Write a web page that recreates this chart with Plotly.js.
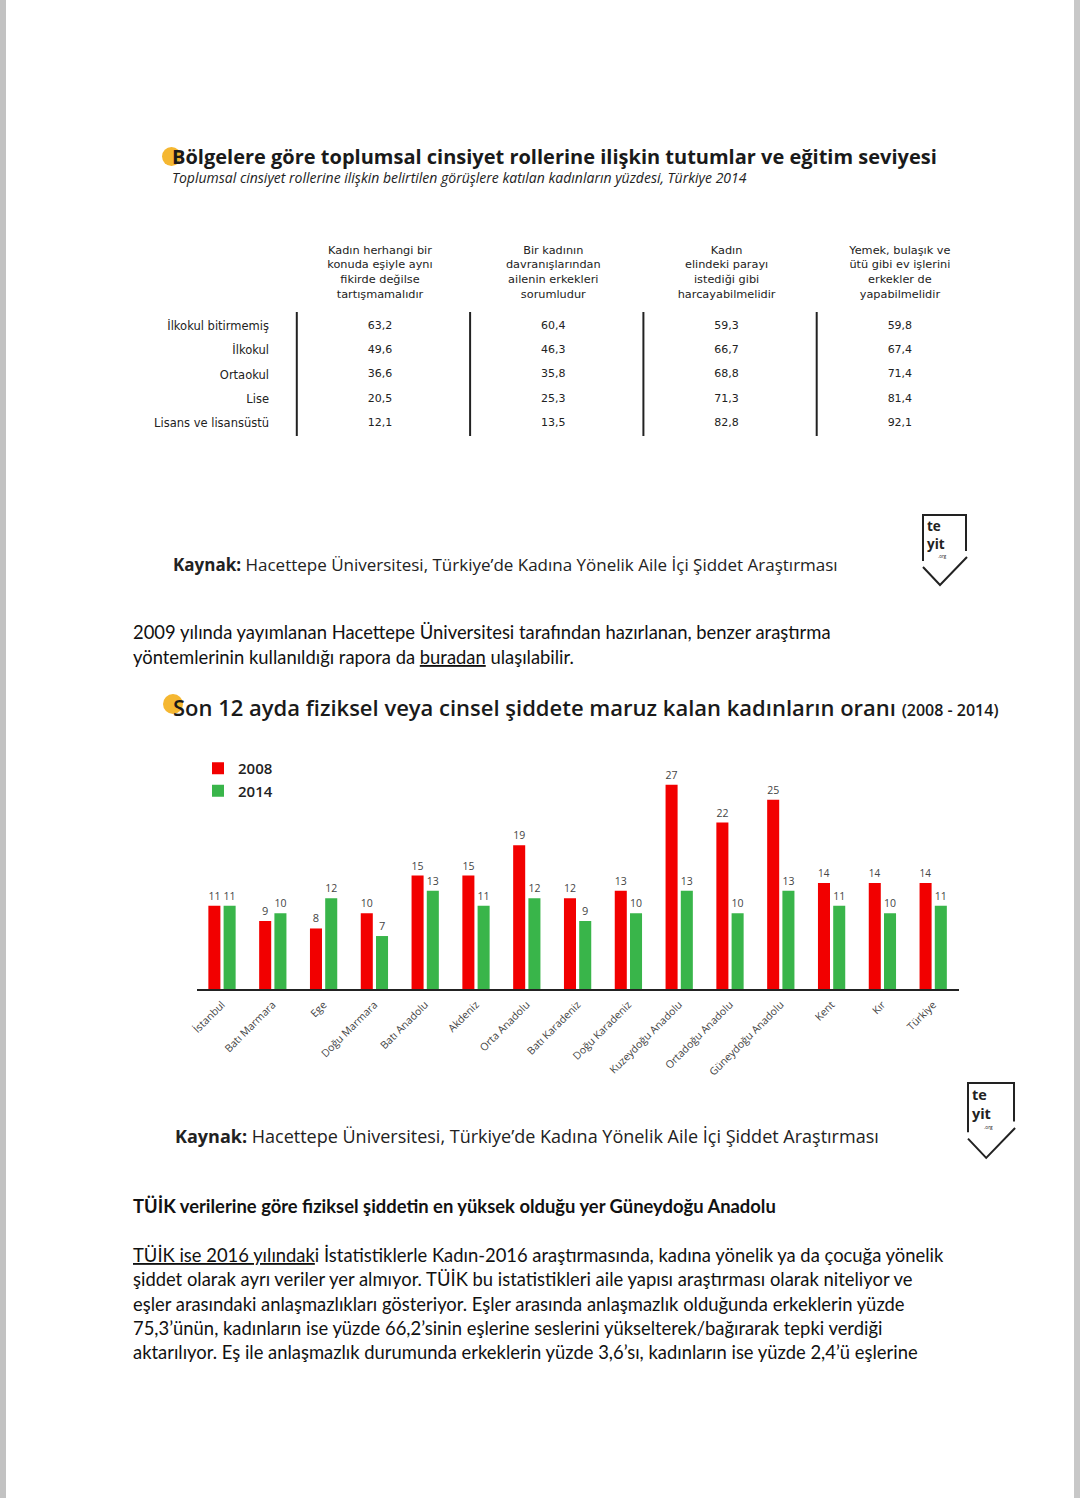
<!DOCTYPE html>
<html><head><meta charset="utf-8">
<script src="https://cdn.plot.ly/plotly-3.0.1.min.js"></script>
<style>html,body{margin:0;padding:0;background:#fff;} #chart{width:1080px;height:1498px;}</style>
</head><body><div id="chart"></div>
<script>
// ---------- DATA ----------
const regions = ['İstanbul','Batı Marmara','Ege','Doğu Marmara','Batı Anadolu','Akdeniz','Orta Anadolu','Batı Karadeniz','Doğu Karadeniz','Kuzeydoğu Anadolu','Ortadoğu Anadolu','Güneydoğu Anadolu','Kent','Kır','Türkiye'];
const violence2008 = [11,9,8,10,15,15,19,12,13,27,22,25,14,14,14];
const violence2014 = [11,10,12,7,13,11,12,9,10,13,10,13,11,10,11];
const seriesNames = ['2008','2014'];

const educationLevels = ['İlkokul bitirmemiş','İlkokul','Ortaokul','Lise','Lisans ve lisansüstü'];
const statements = [
  'Kadın herhangi bir<br>konuda eşiyle aynı<br>fikirde değilse<br>tartışmamalıdır',
  'Bir kadının<br>davranışlarından<br>ailenin erkekleri<br>sorumludur',
  'Kadın<br>elindeki parayı<br>istediği gibi<br>harcayabilmelidir',
  'Yemek, bulaşık ve<br>ütü gibi ev işlerini<br>erkekler de<br>yapabilmelidir'
];
const agreeNotArgue = [63.2,49.6,36.6,20.5,12.1];
const agreeMenResponsible = [60.4,46.3,35.8,25.3,13.5];
const agreeSpendMoney = [59.3,66.7,68.8,71.3,82.8];
const agreeMenHousework = [59.8,67.4,71.4,81.4,92.1];

// ---------- HELPERS ----------
const W = 1080, H = 1498;
const X = p => p / W;
const Y = p => 1 - p / H;
const fmt = v => v.toFixed(1).replace('.', ',');

function txt(px, py, text, size, o) {
  o = o || {};
  return {
    xref: 'paper', yref: 'paper', x: X(px), y: Y(py),
    xanchor: o.xanchor || 'left', yanchor: 'middle', showarrow: false,
    borderpad: 0, borderwidth: 0,
    text: text,
    font: {family: o.family || 'Lato', size: size, color: o.color || '#111', weight: o.weight || 400, style: o.style || 'normal'}
  };
}

// ---------- TRACES ----------
const RED = '#F20000', GREEN = '#39B54A';
const traces = [];
[violence2008, violence2014].forEach((vals, i) => {
  traces.push({
    type: 'bar', x: regions, y: vals, name: seriesNames[i],
    marker: {color: i === 0 ? RED : GREEN},
    text: vals.map(String), textposition: 'outside', cliponaxis: false,
    textfont: {family: 'Open Sans', size: 11, color: '#444'},
    hoverinfo: 'x+y', xaxis: 'x', yaxis: 'y'
  });
});

const TABLE_FONT = 'DejaVu Sans';
const tableCols = [agreeNotArgue, agreeMenResponsible, agreeSpendMoney, agreeMenHousework];
tableCols.forEach((col, j) => {
  traces.push({
    type: 'scatter', mode: 'text', showlegend: false,
    x: col.map(() => statements[j]), y: educationLevels,
    text: col.map(fmt),
    textfont: {family: TABLE_FONT, size: 11, color: '#222'},
    xaxis: 'x2', yaxis: 'y2', hoverinfo: 'text'
  });
});

// ---------- SHAPES ----------
const shapes = [];
shapes.push({type: 'rect', xref: 'paper', yref: 'paper', x0: 0, x1: X(6), y0: 0, y1: 1, fillcolor: '#c2c2c2', line: {width: 0}, layer: 'below'});
shapes.push({type: 'rect', xref: 'paper', yref: 'paper', x0: X(1074), x1: 1, y0: 0, y1: 1, fillcolor: '#c8c8c8', line: {width: 0}, layer: 'below'});
// title bullets
shapes.push({type: 'circle', xref: 'paper', yref: 'paper', x0: X(162), x1: X(181), y0: Y(166), y1: Y(147), fillcolor: '#F5B731', line: {width: 0}, layer: 'below'});
shapes.push({type: 'circle', xref: 'paper', yref: 'paper', x0: X(163), x1: X(183), y0: Y(714), y1: Y(694), fillcolor: '#F5B731', line: {width: 0}, layer: 'below'});
// table dividers
statements.forEach((s, j) => {
  shapes.push({type: 'line', xref: 'x2', yref: 'paper', x0: j - 0.48, x1: j - 0.48, y0: Y(436), y1: Y(312), line: {color: '#222', width: 2}});
});

const annotations = [];
function logo(ox, oy, s) {
  const P = (dx, dy) => X(ox + dx * s) + ',' + Y(oy + dy * s);
  shapes.push({type: 'path', xref: 'paper', yref: 'paper', path: 'M' + P(0, 46) + 'L' + P(0, 0) + 'L' + P(43, 0) + 'L' + P(43, 36), line: {color: '#222', width: 2}});
  shapes.push({type: 'path', xref: 'paper', yref: 'paper', path: 'M' + P(0, 52) + 'L' + P(17, 70) + 'L' + P(44, 42), line: {color: '#222', width: 2}});
  const a = txt(ox + 4 * s, oy + 20 * s, '<b>te<br>yit</b>', 13.5 * s, {family: 'Open Sans', color: '#222'});
  a.align = 'left';
  annotations.push(a);
  annotations.push(txt(ox + 15 * s, oy + 41 * s, '.org', 4.5 * s, {family: 'Open Sans', color: '#222'}));
}
logo(923, 515, 1);
logo(968, 1083, 1.07);

// ---------- TEXT ----------
annotations.push(txt(172, 156.5, 'Bölgelere göre toplumsal cinsiyet rollerine ilişkin tutumlar ve eğitim seviyesi', 20, {family: 'Open Sans', weight: 700, color: '#1a1a1a'}));
annotations.push(txt(172, 178, 'Toplumsal cinsiyet rollerine ilişkin belirtilen görüşlere katılan kadınların yüzdesi, Türkiye 2014', 14, {family: 'Open Sans', style: 'italic', color: '#222'}));
annotations.push(txt(173, 564, '<b>Kaynak:</b> Hacettepe Üniversitesi, Türkiye’de Kadına Yönelik Aile İçi Şiddet Araştırması', 17, {family: 'Open Sans', color: '#222'}));
annotations.push(txt(133, 632, '2009 yılında yayımlanan Hacettepe Üniversitesi tarafından hazırlanan, benzer araştırma', 18.4));
annotations.push(txt(133, 657, 'yöntemlerinin kullanıldığı rapora da <u>buradan</u> ulaşılabilir.', 18.4));
annotations.push(txt(173, 707, 'Son 12 ayda fiziksel veya cinsel şiddete maruz kalan kadınların oranı <span style="font-size:16px">(2008 - 2014)</span>', 22, {family: 'Open Sans', weight: 600, color: '#1a1a1a'}));
annotations.push(txt(175, 1136, '<b>Kaynak:</b> Hacettepe Üniversitesi, Türkiye’de Kadına Yönelik Aile İçi Şiddet Araştırması', 18, {family: 'Open Sans', color: '#222'}));
annotations.push(txt(133, 1206, '<b>TÜİK verilerine göre fiziksel şiddetin en yüksek olduğu yer Güneydoğu Anadolu</b>', 18.4));
const para = [
  '<u>TÜİK ise 2016 yılındak</u>i İstatistiklerle Kadın-2016 araştırmasında, kadına yönelik ya da çocuğa yönelik',
  'şiddet olarak ayrı veriler yer almıyor. TÜİK bu istatistikleri aile yapısı araştırması olarak niteliyor ve',
  'eşler arasındaki anlaşmazlıkları gösteriyor. Eşler arasında anlaşmazlık olduğunda erkeklerin yüzde',
  '75,3’ünün, kadınların ise yüzde 66,2’sinin eşlerine seslerini yükselterek/bağırarak tepki verdiği',
  'aktarılıyor. Eş ile anlaşmazlık durumunda erkeklerin yüzde 3,6’sı, kadınların ise yüzde 2,4’ü eşlerine'
];
const paraY = [1255, 1279, 1304, 1328, 1352];
para.forEach((t, i) => annotations.push(txt(133, paraY[i], t, 18.4)));

// ---------- LAYOUT ----------
const layout = {
  width: W, height: H, margin: {l: 0, r: 0, t: 0, b: 0},
  paper_bgcolor: '#ffffff', plot_bgcolor: 'rgba(0,0,0,0)',
  barmode: 'group', bargap: 0.4, bargroupgap: 0.21,
  showlegend: true,
  legend: {x: X(198), y: Y(752), xanchor: 'left', yanchor: 'top', bgcolor: 'rgba(0,0,0,0)',
           font: {family: 'Open Sans', size: 15, weight: 600, color: '#222'}},
  xaxis: {domain: [X(196.6), X(958.6)], type: 'category', tickangle: -45, anchor: 'y',
          tickfont: {family: 'Open Sans', size: 10.5, color: '#444'}, ticklabelstandoff: 4,
          showline: true, linecolor: '#222', linewidth: 1.5, ticks: '', showgrid: false, zeroline: false},
  yaxis: {domain: [Y(989), Y(762)], range: [0, 30], visible: false, anchor: 'x'},
  xaxis2: {domain: [X(276), X(990)], type: 'category', range: [-0.6, 3.52], side: 'top', anchor: 'y2',
           tickfont: {family: TABLE_FONT, size: 11.3, color: '#222'},
           showline: false, showgrid: false, zeroline: false, ticks: '', ticklabelstandoff: 11},
  yaxis2: {domain: [Y(436), Y(312)], type: 'category', range: [4.53, -0.58], anchor: 'x2',
           tickfont: {family: TABLE_FONT, size: 11.5, color: '#222'},
           showline: false, showgrid: false, zeroline: false, ticks: '', ticklabelstandoff: 6},
  shapes: shapes, annotations: annotations
};

Plotly.newPlot('chart', traces, layout, {displayModeBar: false, staticPlot: true});
</script>
</body></html>
